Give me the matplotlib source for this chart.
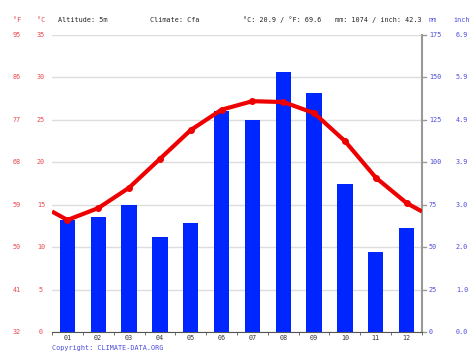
import numpy as np
import matplotlib.pyplot as plt
import matplotlib.transforms as mtransforms

# Climate data (monthly)
months = ['01', '02', '03', '04', '05', '06', '07', '08', '09', '10', '11', '12']
temp_c = [13.2, 14.6, 17.0, 20.4, 23.8, 26.2, 27.2, 27.1, 25.8, 22.5, 18.2, 15.2]
precip_mm = [66, 68, 75, 56, 64, 130, 125, 153, 141, 87, 47, 61]

c_ticks = [0, 5, 10, 15, 20, 25, 30, 35]
mm_ticks = [0, 25, 50, 75, 100, 125, 150, 175]

header_info = ['Altitude: 5m', 'Climate: Cfa', '°C: 20.9 / °F: 69.6', 'mm: 1074 / inch: 42.3']

RED = '#ee0000'
BAR = '#0026ff'
LRED = '#e8464a'
LBLUE = '#4a4ae0'
FONT = 'DejaVu Sans Mono'
FS = 4.9

W, H = 474, 355
fig = plt.figure(figsize=(W / 100, H / 100), dpi=100)
ax = fig.add_axes([52 / W, 23 / H, 370 / W, 297 / H])
x = np.arange(1, 13)

# precipitation bars
ax.bar(x, precip_mm, width=0.5, color=BAR, zorder=2)
ax.set_xlim(0.5, 12.5)
ax.set_ylim(0, 175)
for v in mm_ticks:
    ax.axhline(v, color='#dddddd', lw=1, zorder=0)

# temperature line (wraps around the year at the edges)
axt = ax.twinx()
axt.set_ylim(0, 35)
edge = (temp_c[0] + temp_c[-1]) / 2
xl = np.concatenate([[0.5], x, [12.5]])
yl = np.concatenate([[edge], temp_c, [edge]])
axt.plot(xl, yl, color=RED, lw=3, solid_capstyle='butt', zorder=3)
axt.plot(x, temp_c, 'o', color=RED, ms=4, zorder=4)

for a in (ax, axt):
    a.set_yticks([])
    for s in ('top', 'left', 'right', 'bottom'):
        a.spines[s].set_visible(False)
ax.spines['bottom'].set_visible(True)
ax.spines['bottom'].set_color('#555555')
ax.spines['bottom'].set_zorder(5)

# month labels and boundary ticks
ax.set_xticks(x)
ax.set_xticklabels(months, fontfamily=FONT, fontsize=FS, color='#333333')
ax.tick_params(axis='x', length=0, pad=2.5)
ax.set_xticks(np.arange(0.5, 13, 1), minor=True)
ax.tick_params(axis='x', which='minor', length=2, color='#555555')

# right spine with outward ticks
ax.plot([1, 1], [0, 1], transform=ax.transAxes, color='#999999', lw=1.5, clip_on=False, zorder=5)
tr_right = mtransforms.blended_transform_factory(fig.transFigure, ax.transData)
for v in mm_ticks:
    ax.plot([422 / W, 426 / W], [v, v], transform=tr_right, color='#999999', lw=1, clip_on=False)
    ax.text(429 / W, v, str(v), transform=tr_right, fontfamily=FONT, fontsize=FS,
            color=LBLUE, ha='left', va='center')
    ax.text(462 / W, v, f'{v / 25.4:.1f}', transform=tr_right, fontfamily=FONT, fontsize=FS,
            color=LBLUE, ha='center', va='center')

# left axis labels (°F and °C)
tr_left = mtransforms.blended_transform_factory(fig.transFigure, axt.transData)
for c in c_ticks:
    f = round(32 + 1.8 * c)
    axt.text(17 / W, c, str(f), transform=tr_left, fontfamily=FONT, fontsize=FS,
             color=LRED, ha='center', va='center')
    axt.text(41 / W, c, str(c), transform=tr_left, fontfamily=FONT, fontsize=FS,
             color=LRED, ha='center', va='center')

# header
hy = 1 - 20 / H
fig.text(17 / W, hy, '°F', fontfamily=FONT, fontsize=FS, color=LRED, ha='center', va='center')
fig.text(41 / W, hy, '°C', fontfamily=FONT, fontsize=FS, color=LRED, ha='center', va='center')
for xp, s in zip([58, 150, 243, 335], header_info):
    fig.text(xp / W, hy, s, fontfamily=FONT, fontsize=FS, color='#222222', ha='left', va='center')
fig.text(433 / W, hy, 'mm', fontfamily=FONT, fontsize=FS, color=LBLUE, ha='center', va='center')
fig.text(462 / W, hy, 'inch', fontfamily=FONT, fontsize=FS, color=LBLUE, ha='center', va='center')

fig.text(52 / W, 1 - 348 / H, 'Copyright: CLIMATE-DATA.ORG', fontfamily=FONT, fontsize=FS,
         color=LBLUE, ha='left', va='center')

fig.savefig('out.png', dpi=100)
